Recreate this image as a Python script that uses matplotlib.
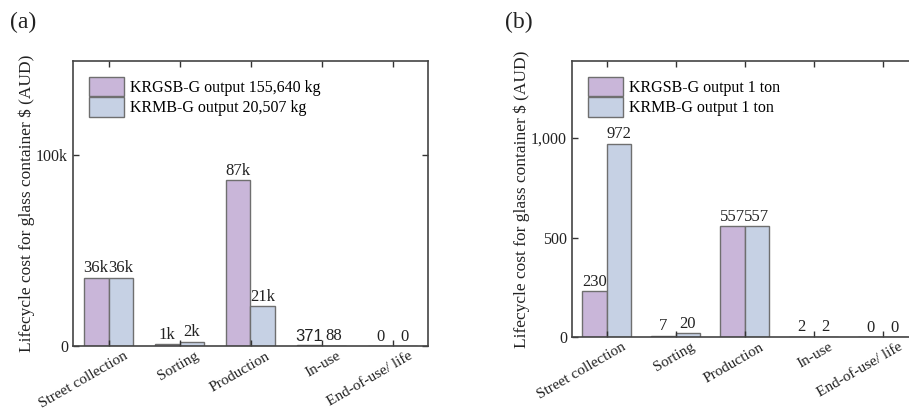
import numpy as np
import matplotlib
matplotlib.use("Agg")
import matplotlib.pyplot as plt

plt.rcParams['font.family'] = ['Liberation Serif', 'DejaVu Serif']

# data
stages = ["Street collection", "Sorting", "Production", "In-use", "End-of-use/ life"]
krgsb_total = [35700, 1100, 86800, 371, 0]
krmb_total = [35800, 2300, 20700, 88, 0]
krgsb_ton = [230, 7, 557, 2, 0]
krmb_ton = [972, 20, 557, 2, 0]
legend_a = ["KRGSB-G output 155,640 kg", "KRMB-G output 20,507 kg"]
legend_b = ["KRGSB-G output 1 ton", "KRMB-G output 1 ton"]

purple = "#c9b6d9"
blue = "#c6d1e4"
edge = "#6f6f6f"


def fmt_k(v):
    if v >= 1000:
        return f"{v/1000:.0f}k"
    return str(v)


def draw_panel(ax, s1, s2, names, yticks, yticklabels, ymax, labfmt, sans_small=False):
    x = np.arange(len(stages))
    w = 0.35
    b1 = ax.bar(x - w/2, s1, w, color=purple, edgecolor=edge, linewidth=1.0, label=names[0])
    b2 = ax.bar(x + w/2, s2, w, color=blue, edgecolor=edge, linewidth=1.0, label=names[1])
    for bars, vals in ((b1, s1), (b2, s2)):
        for rect, v in zip(bars, vals):
            fam = ['Liberation Sans'] if (sans_small and v == 371) else ['Liberation Serif']
            ax.annotate(labfmt(v), (rect.get_x() + rect.get_width()/2, rect.get_height()),
                        xytext=(0, 1), textcoords='offset points', ha='center', va='bottom',
                        fontsize=12, color='#222222', family=fam)
    ax.set_xlim(-0.5, len(stages) - 0.5)
    ax.set_ylim(0, ymax)
    ax.set_yticks(yticks)
    ax.set_yticklabels(yticklabels)
    ax.set_xticks(x)
    ax.set_xticklabels([])
    # category labels, rotated and nudged right like the original
    for i, s in enumerate(stages):
        ax.annotate(s, (i, 0), xycoords=('data', 'axes fraction'), xytext=(11, -2.5),
                    textcoords='offset points', rotation=30, ha='right', va='top',
                    rotation_mode='anchor', fontsize=11, color='#222222',
                    annotation_clip=False)
    ax.tick_params(direction='in', top=True, right=True, length=4, width=1, colors='#333333',
                   labelsize=11.5, labelcolor='#222222')
    for sp in ax.spines.values():
        sp.set_color('#444444')
        sp.set_linewidth(1.2)
    ax.set_ylabel("Lifecycle cost for glass container $ (AUD)", fontsize=12.5, color='#222222',
                  labelpad=1)
    leg = ax.legend(loc='upper left', frameon=False, fontsize=11.5, handlelength=2.2,
                    handleheight=1.5, borderaxespad=0.6, labelspacing=0.05, handletextpad=0.35)
    for h in leg.legend_handles:
        h.set_edgecolor(edge)


fig = plt.figure(figsize=(9.09, 4.12), dpi=100)
W, H = 909, 412
ax1 = fig.add_axes([73/W, 1 - 346/H, (428-73)/W, (346-61)/H])
ax2 = fig.add_axes([572/W, 1 - 337/H, (917-572)/W, (337-61)/H])

draw_panel(ax1, krgsb_total, krmb_total, legend_a, [0, 100000], ["0", "100k"], 149000, fmt_k, sans_small=True)
draw_panel(ax2, krgsb_ton, krmb_ton, legend_b, [0, 500, 1000], ["0", "500", "1,000"], 1387, str)

fig.text(10/W, 1 - 22/H, "(a)", fontsize=17, va='center', ha='left', color='#222222')
fig.text(505/W, 1 - 22/H, "(b)", fontsize=17, va='center', ha='left', color='#222222')

fig.savefig("out.png", dpi=100)
